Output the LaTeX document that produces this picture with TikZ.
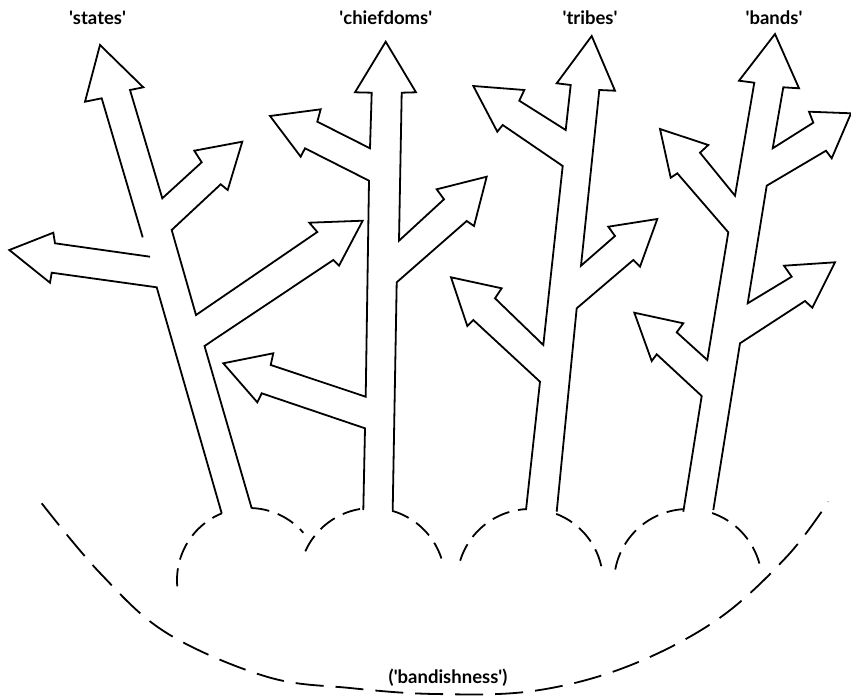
\documentclass[tikz,border=0pt]{standalone}
\usepackage{fontspec}
\newfontfamily\labfont{Lato}
\begin{document}
\begin{tikzpicture}[x=1pt,y=-1pt,
  outline/.style={line width=1.8pt, line join=miter, line cap=butt},
  smalldash/.style={line width=1.8pt, dash pattern=on 18pt off 9pt},
  bigdash/.style={line width=1.8pt, dash pattern=on 28pt off 12pt},
  lab/.style={font=\labfont\bfseries\fontsize{18.5}{22}\selectfont, anchor=base, inner sep=0pt}]
\useasboundingbox (0,0) rectangle (851,696);

% labels
\node[lab] (lstates) at (97.5,24) {\textquotesingle states\textquotesingle};
\node[lab] (lchief) at (385.8,24) {\textquotesingle chiefdoms\textquotesingle};
\node[lab] (ltribes) at (590,24) {\textquotesingle tribes\textquotesingle};
\node[lab] (lbands) at (774,24) {\textquotesingle bands\textquotesingle};
\node[lab] (lbandish) at (448,683.3) {(\textquotesingle bandishness\textquotesingle)};

% states tree
\draw[outline] (142.7,237.3) -- (101.7,98.3) -- (85,101.7) -- (100,45) -- (143.3,87.3) -- (130,90)
  -- (162.3,198.3) -- (201.7,162.3) -- (194.3,150.7) -- (242.3,141.7) -- (227.7,190) -- (220.7,184.3)
  -- (171.7,230) -- (196,315) -- (317.3,232) -- (309.3,222.7) -- (362.7,220.7) -- (339,265.7)
  -- (333.3,260) -- (204.5,346) -- (251.7,508.3);
\draw[outline] (150,256.7) -- (55,243.3) -- (53.3,232.7) -- (9.3,250) -- (50,282.7) -- (51.7,272.7)
  -- (156.7,287.3) -- (221.7,513.3);

% chiefdoms tree
\draw[outline] (363.3,510) -- (365,428.3) -- (261.7,393.3) -- (257.3,402.3) -- (223.3,363.3)
  -- (273.3,353.3) -- (270.7,365) -- (365.7,396.7) -- (369,180.7) -- (305,148.3) -- (300.7,156.7)
  -- (270,116) -- (320.7,109.3) -- (317.3,121.7) -- (370,148.3) -- (371.7,92.7) -- (355,92.3)
  -- (385.7,41.7) -- (416,92.3) -- (401.7,92.7) -- (399,240.7) -- (444,199.3) -- (436.7,189.3)
  -- (486.7,176.7) -- (474,226) -- (466.7,221) -- (396.7,282.3) -- (392.7,510);

% tribes tree
\draw[outline] (526,510) -- (540,381.7) -- (473.3,320) -- (467.3,326) -- (451,277.3) -- (501.7,288.3)
  -- (495,298.3) -- (543.3,345) -- (562.7,166) -- (502.7,125) -- (497.3,131.7) -- (473.3,86)
  -- (524.3,90) -- (519.3,100.7) -- (565.7,130) -- (570.7,85) -- (556.7,83.3) -- (591.7,36)
  -- (615,90.7) -- (599.3,90) -- (581,265.7) -- (615,236) -- (608.3,226.7) -- (657.3,219)
  -- (640,266.7) -- (633.3,260) -- (576.7,308.3) -- (556.7,511.7);

% bands tree
\draw[outline] (683.3,511.7) -- (701.7,396) -- (656.7,354.3) -- (651.7,361) -- (634.3,312.7)
  -- (683.3,323.3) -- (676.7,332.3) -- (707.3,360) -- (728.3,232.3) -- (677.3,173.3) -- (670.7,177.7)
  -- (660,129) -- (708.3,145) -- (700,152.7) -- (735,195.7) -- (754.3,82.7) -- (739,80.7)
  -- (775,34) -- (799,88.3) -- (783.3,87.3) -- (772.7,148.3) -- (813.3,122.7) -- (809,111.7)
  -- (851,113.3) -- (831.7,158.3) -- (826,150.7) -- (766.7,185.7) -- (747.7,303.3) -- (791.7,276.7)
  -- (784,265.7) -- (835,262.3) -- (812.3,307.7) -- (805,301) -- (740,343.3) -- (713.3,510);

% small dashed roots
\draw[smalldash] plot[domain=185:112, samples=30] ({249+72*cos(\x)},{580-72*sin(\x)});
\draw[smalldash] plot[domain=88:41, samples=20] ({249+72*cos(\x)},{580-72*sin(\x)});
\draw[smalldash] plot[domain=156:97, samples=25] ({372+73*cos(\x)},{581-73*sin(\x)});
\draw[smalldash] plot[domain=74:18, samples=25] ({372+73*cos(\x)},{581-73*sin(\x)});
\draw[smalldash] plot[domain=163:93, samples=25] ({530+73*cos(\x)},{582-73*sin(\x)});
\draw[smalldash] plot[domain=69:7, samples=25] ({530+73*cos(\x)},{582-73*sin(\x)});
\draw[smalldash] plot[domain=169.5:94, samples=25] ({688+74*cos(\x)},{583-74*sin(\x)});
\draw[smalldash] plot[domain=71:10, samples=25] ({688+74*cos(\x)},{583-74*sin(\x)});

% big dashed arc
\draw[bigdash] plot[smooth, tension=0.6] coordinates {(41.7,503.3) (100,573) (166.7,633) (266.7,676.7)
  (350,688) (435,694) (533,691) (626.7,666.7) (716.7,620) (786.7,556.7) (828.3,501.7)};
\end{tikzpicture}
\end{document}
